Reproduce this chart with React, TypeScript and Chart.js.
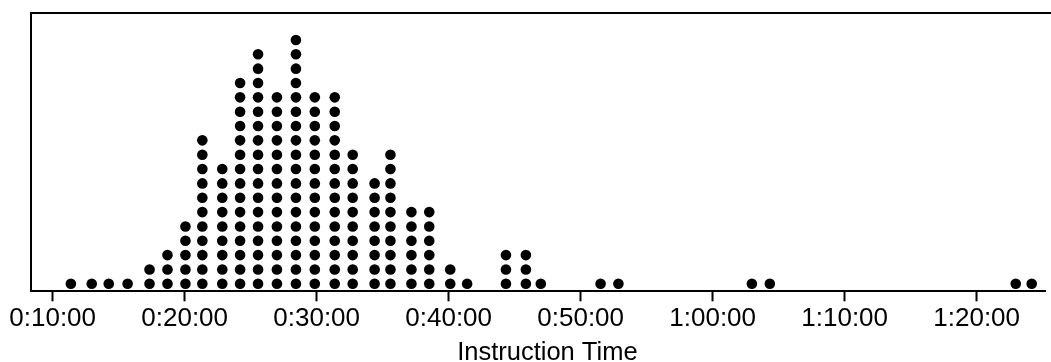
import React, { useEffect, useRef } from "react";
import { Chart, registerables } from "chart.js";

Chart.register(...registerables);

// Instruction time of each dot column, in minutes
const binMinutes = [
  11.38, 12.96, 14.25, 15.68, 17.34, 18.7, 20.06, 21.34, 22.85, 24.2, 25.56,
  26.99, 28.43, 29.86, 31.37, 32.73, 34.39, 35.59, 37.18, 38.53, 40.12, 41.4,
  44.34, 45.85, 46.98, 51.51, 52.86, 62.97, 64.33, 82.96, 84.17,
];
// Number of dots stacked in each column
const binCounts = [
  1, 1, 1, 1, 2, 3, 5, 11, 9, 15, 17, 14, 18, 14, 14, 10, 8, 10, 6, 6, 2, 1,
  3, 3, 1, 1, 1, 1, 1, 1, 1,
];
// Tick positions (minutes)
const tickMinutes = [10, 20, 30, 40, 50, 60, 70, 80];
const axisTitle = "Instruction Time";

const fmt = (m: number) => {
  const h = Math.floor(m / 60);
  const mm = Math.round(m % 60);
  return `${h}:${String(mm).padStart(2, "0")}:00`;
};

const FONT = "'Liberation Sans', Arial, sans-serif";

const frame = {
  id: "frame",
  afterDraw(chart: any) {
    const { ctx, chartArea } = chart;
    ctx.save();
    ctx.strokeStyle = "#000";
    ctx.lineWidth = 2;
    ctx.beginPath();
    ctx.moveTo(chartArea.left, chartArea.bottom);
    ctx.lineTo(chartArea.left, chartArea.top);
    ctx.lineTo(chart.width, chartArea.top);
    ctx.stroke();
    // axis title
    ctx.fillStyle = "#000";
    ctx.font = `25.5px ${FONT}`;
    ctx.textAlign = "center";
    ctx.textBaseline = "alphabetic";
    ctx.fillText(axisTitle, (chartArea.left + chartArea.right) / 2 + 9, chart.height - 2);
    ctx.restore();
  },
};

export default function App() {
  const ref = useRef<HTMLCanvasElement | null>(null);
  useEffect(() => {
    if (!ref.current) return;
    const points: { x: number; y: number }[] = [];
    binMinutes.forEach((m, i) => {
      for (let k = 1; k <= binCounts[i]; k++) points.push({ x: m, y: k });
    });
    const chart = new Chart(ref.current, {
      type: "scatter",
      data: {
        datasets: [
          {
            data: points,
            backgroundColor: "#000",
            borderColor: "#000",
            pointRadius: 5.3,
            pointHoverRadius: 5.3,
            borderWidth: 0,
          },
        ],
      },
      options: {
        animation: false,
        responsive: true,
        maintainAspectRatio: false,
        layout: { padding: { left: 31, right: 1, top: 13, bottom: 25.5 } },
        plugins: { legend: { display: false }, tooltip: { enabled: false } },
        scales: {
          x: {
            type: "linear",
            min: 8.36,
            max: 85.23,
            afterBuildTicks: (scale: any) => {
              scale.ticks = tickMinutes.map((v) => ({ value: v }));
            },
            grid: {
              display: true,
              drawOnChartArea: false,
              drawTicks: true,
              tickLength: 10,
              tickColor: "#000",
              tickWidth: 2,
            },
            border: { display: true, color: "#000", width: 2 },
            ticks: {
              color: "#000",
              font: { family: FONT, size: 26 },
              padding: 2,
              maxRotation: 0,
              autoSkip: false,
              callback: (v: any) => fmt(Number(v)),
            },
            title: { display: false },
          },
          y: {
            display: false,
            min: 0.477,
            max: 19.88,
          },
        },
      },
      plugins: [frame],
    });
    return () => chart.destroy();
  }, []);
  return (
    <div
      style={{
        position: "fixed",
        left: 0,
        top: 0,
        width: 1051,
        height: 362,
        background: "#fff",
      }}
    >
      <canvas ref={ref} />
    </div>
  );
}
